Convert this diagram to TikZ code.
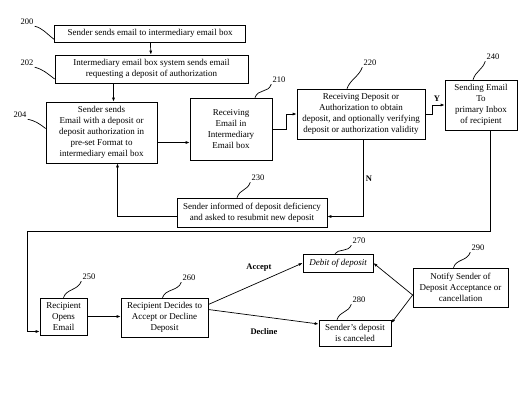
\documentclass[tikz,border=0pt]{standalone}
\usepackage{fontspec}
\setmainfont{Liberation Serif}
\usetikzlibrary{arrows.meta}

\begin{document}
\begin{tikzpicture}
    [x=1pt,y=-1pt,line width=0.7pt,
     font=\fontsize{9}{10.9}\selectfont,
     box/.style={draw,align=center,inner sep=1pt},
     num/.style={font=\fontsize{8.5}{9}\selectfont,inner sep=1pt},
     tag/.style={font=\fontsize{8.5}{9}\selectfont\bfseries,inner sep=1pt},
     arrow/.style={-{Latex[length=4pt,width=3pt]}}]

    \useasboundingbox (0,0) rectangle (530,400);

    % sender side:
    \node (b200) at (150,33.5) [box,minimum width=191pt,minimum height=17pt]
      {Sender sends email to intermediary email box};
    \node (b202) at (151.5,69) [box,minimum width=193pt,minimum height=28pt]
      {Intermediary email box system sends email\\requesting a deposit of authorization};
    \node (b204) at (101.5,132.5) [box,minimum width=111pt,minimum height=61pt]
      {Sender sends\\Email with a deposit or\\deposit authorization in\\pre-set Format to\\intermediary email box};

    % intermediary box:
    \node (b210) at (231,129) [box,minimum width=82pt,minimum height=62pt]
      {Receiving\\Email in\\Intermediary\\Email box};
    \node (b220) at (361,114) [box,minimum width=128pt,minimum height=50pt]
      {Receiving Deposit or\\Authorization to obtain\\deposit, and optionally verifying\\deposit or authorization validity};
    \node (b240) at (481,105) [box,minimum width=72pt,minimum height=50pt]
      {Sending Email\\To\\primary Inbox\\of recipient};
    \node (b230) at (252,212.5) [box,minimum width=150pt,minimum height=29pt]
      {Sender informed of deposit deficiency\\and asked to resubmit new deposit};

    % recipient side:
    \node (b250) at (63.5,316.5) [box,minimum width=47pt,minimum height=37pt]
      {Recipient\\Opens\\Email};
    \node (b260) at (164.5,317.5) [box,minimum width=87pt,minimum height=39pt]
      {Recipient Decides to\\Accept or Decline\\Deposit};
    \node (b270) at (338,263) [box,minimum width=70pt,minimum height=18pt]
      {\itshape Debit of deposit};
    \node (b280) at (355,333) [box,minimum width=72pt,minimum height=26pt]
      {Sender's deposit\\is canceled};
    \node (b290) at (460.5,287.5) [box,minimum width=95pt,minimum height=39pt]
      {Notify Sender of\\Deposit Acceptance or\\cancellation};

    % reference numbers:
    \node (l200) at (27,22) [num] {200};
    \node (l202) at (27,63) [num] {202};
    \node (l204) at (20,115) [num] {204};
    \node (l210) at (279,80) [num] {210};
    \node (l220) at (370,63) [num] {220};
    \node (l240) at (493,57) [num] {240};
    \node (l230) at (258,178) [num] {230};
    \node (l250) at (89,277) [num] {250};
    \node (l260) at (189,278) [num] {260};
    \node (l270) at (359,241) [num] {270};
    \node (l280) at (359,300) [num] {280};
    \node (l290) at (478,248) [num] {290};

    \draw (l200.south east) .. controls +(8,2) and +(-8,-6) .. ([yshift=3pt]b200.south west);
    \draw (l202.south east) .. controls +(8,2) and +(-8,-6) .. ([yshift=-10pt]b202.west);
    \draw (l204.south east) .. controls +(8,2) and +(-8,-6) .. ([yshift=4pt]b204.west);
    \draw (l210.south west) .. controls +(-3,9) and +(3,-9) .. ([xshift=24pt]b210.north);
    \draw (l220.south west) .. controls +(-3,9) and +(3,-9) .. ([xshift=-14pt]b220.north);
    \draw (l240.south west) .. controls +(-3,9) and +(3,-9) .. ([xshift=-8pt]b240.north);
    \draw (l230.south west) .. controls +(-3,9) and +(3,-9) .. ([xshift=-15pt]b230.north);
    \draw (l250.south west) .. controls +(-3,9) and +(3,-9) .. (b250.north);
    \draw (l260.south west) .. controls +(-3,9) and +(3,-9) .. ([xshift=-2pt]b260.north);
    \draw (l270.south west) .. controls +(-3,7) and +(3,-5) .. ([xshift=-3pt]b270.north);
    \draw (l280.south west) .. controls +(-3,9) and +(3,-9) .. ([xshift=-18pt]b280.north);
    \draw (l290.south west) .. controls +(-3,9) and +(3,-9) .. ([xshift=-7pt]b290.north);

    % free corner of the long return line:
    \coordinate (c1) at (27,231);

    % connect nodes:
    \draw [arrow] (b200) to (b202);
    \draw [arrow] ([xshift=-38pt]b202.south) to ([xshift=12pt]b204.north);
    \draw [arrow] ([yshift=-10pt]b204.east) to ([yshift=-10pt]b204.east -| b210.west);
    \draw [arrow] (b210.east) -- ++(14,0) |- (b220.west);
    \draw [arrow] (b220.east) -- ++(7,0) |- (b240.west);
    \draw [arrow] ([xshift=2pt]b220.south) |- ([yshift=-4pt]b230.east);
    \draw [arrow] ([yshift=-4pt]b230.west) -| ([xshift=16pt]b204.south);
    \draw [arrow] ([xshift=9pt]b240.south) |- (c1) |- ([yshift=-15pt]b250.west);
    \draw [arrow] (b250.east) to (b250.east -| b260.west);
    \draw [arrow] ([yshift=13pt]b260.east) to (b270.west);
    \draw [arrow] ([yshift=8pt]b260.east) to ([yshift=9pt]b280.west);
    \draw [arrow] ([yshift=-7.5pt]b290.west) to (b270.east);
    \draw [arrow] ([yshift=-7.5pt]b290.west) to ([yshift=10pt]b280.east);

    % branch labels:
    \node (ty) at (437,99) [tag] {Y};
    \node (tn) at (369,179) [tag] {N};
    \node (tacc) at (259,268) [tag] {Accept};
    \node (tdec) at (264,332) [tag] {Decline};

  \end{tikzpicture}
\end{document}
